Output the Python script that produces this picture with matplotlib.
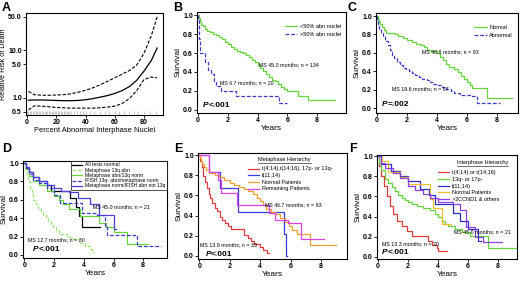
import matplotlib.pyplot as plt
import numpy as np

plt.rcParams['font.family'] = ['Liberation Sans', 'DejaVu Sans']

# ---- A: relative risk vs percent abnormal nuclei
a_x = [1, 5, 10, 15, 20, 25, 30, 35, 40, 45, 50, 55, 60, 65, 70, 75, 80, 85, 89]
a_rr = [0.88, 0.89, 0.89, 0.88, 0.87, 0.86, 0.86, 0.87, 0.9, 0.95, 1.02, 1.1, 1.22, 1.4, 1.7, 2.3, 3.6, 6.0, 11.0]
a_hi = [1.35, 1.15, 1.12, 1.12, 1.13, 1.15, 1.2, 1.3, 1.42, 1.6, 1.85, 2.2, 2.6, 3.1, 3.7, 4.8, 8.5, 20.0, 50.0]
a_lo = [0.55, 0.67, 0.66, 0.64, 0.62, 0.61, 0.6, 0.6, 0.6, 0.6, 0.61, 0.63, 0.66, 0.75, 0.95, 1.4, 2.4, 2.7, 2.6]
a_rug = [0, 1, 2, 3, 4, 5, 6, 7, 8, 9, 10, 11, 12, 13, 14, 15, 16, 17, 18, 19, 20, 21, 22, 23, 24,
         25, 26, 27, 28, 29, 30, 32, 34, 36, 38, 40, 43, 46, 50, 53, 56, 60, 63, 66, 70, 73, 76, 80, 84, 88]

# ---- B
b_lt50 = [(0, 1.0), (0.05, 0.97), (0.1, 0.94), (0.2, 0.9), (0.3, 0.88), (0.45, 0.85), (0.6, 0.83),
          (0.8, 0.82), (1.0, 0.8), (1.2, 0.79), (1.4, 0.77), (1.6, 0.75), (1.8, 0.72), (2.0, 0.69),
          (2.2, 0.66), (2.4, 0.64), (2.6, 0.62), (2.8, 0.61), (3.0, 0.6), (3.2, 0.58), (3.4, 0.56),
          (3.6, 0.53), (3.8, 0.5), (4.0, 0.47), (4.2, 0.44), (4.4, 0.41), (4.6, 0.38), (4.8, 0.35),
          (5.0, 0.32), (5.2, 0.3), (5.4, 0.27), (5.6, 0.24), (5.8, 0.22), (6.0, 0.2), (6.75, 0.15),
          (7.4, 0.1), (9.2, 0.1)]
b_gt50 = [(0, 1.0), (0.03, 0.95), (0.06, 0.85), (0.09, 0.75), (0.12, 0.6), (0.45, 0.5), (0.65, 0.42),
          (0.9, 0.38), (1.1, 0.3), (1.2, 0.25), (1.55, 0.2), (2.55, 0.15), (5.45, 0.075), (5.95, 0.075)]

# ---- C
c_normal = [(0, 1.0), (0.05, 0.97), (0.1, 0.94), (0.2, 0.91), (0.3, 0.88), (0.45, 0.85), (0.6, 0.82),
            (1.2, 0.8), (1.4, 0.78), (1.7, 0.76), (2.0, 0.74), (2.3, 0.72), (2.6, 0.7), (2.9, 0.68),
            (3.1, 0.66), (3.3, 0.63), (3.6, 0.62), (4.0, 0.6), (4.2, 0.56), (4.4, 0.52), (4.6, 0.48),
            (4.8, 0.45), (5.1, 0.42), (5.4, 0.39), (5.6, 0.35), (5.8, 0.32), (6.0, 0.28), (6.2, 0.25),
            (6.35, 0.22), (7.35, 0.11), (9.0, 0.11)]
c_abnormal = [(0, 1.0), (0.03, 0.95), (0.08, 0.9), (0.15, 0.86), (0.25, 0.82), (0.4, 0.78), (0.55, 0.73),
              (0.7, 0.68), (0.85, 0.63), (1.0, 0.58), (1.15, 0.54), (1.3, 0.5), (1.5, 0.47), (1.7, 0.44),
              (1.9, 0.42), (2.1, 0.4), (2.3, 0.38), (2.5, 0.36), (2.8, 0.34), (3.0, 0.32), (3.3, 0.3),
              (3.5, 0.28), (3.7, 0.26), (4.0, 0.25), (4.3, 0.23), (4.6, 0.21), (4.9, 0.18), (5.1, 0.16),
              (5.5, 0.14), (6.2, 0.13), (6.65, 0.06), (8.2, 0.06)]

# ---- D
d_all_normal = [(0, 1.0), (0.1, 0.95), (0.3, 0.9), (0.6, 0.85), (1.0, 0.8), (1.5, 0.76), (1.8, 0.7),
                (3.05, 0.62), (3.45, 0.52), (3.65, 0.42), (3.85, 0.3), (5.1, 0.3)]
d_meta13q = [(0, 1.0), (0.05, 0.93), (0.15, 0.87), (0.25, 0.8), (0.38, 0.73), (0.5, 0.67), (0.6, 0.6),
             (0.8, 0.55), (0.95, 0.5), (1.1, 0.47), (1.28, 0.43), (1.45, 0.4), (1.6, 0.37), (1.8, 0.33),
             (1.96, 0.3), (2.15, 0.27), (2.3, 0.23), (2.85, 0.2), (3.3, 0.17), (3.65, 0.13), (4.1, 0.1),
             (4.4, 0.07), (4.55, 0.03), (4.66, 0.03)]
d_meta_abn = [(0, 1.0), (0.1, 0.93), (0.3, 0.86), (0.6, 0.8), (1.0, 0.76), (1.5, 0.7), (2.0, 0.64),
              (2.3, 0.6), (2.6, 0.55), (3.0, 0.5), (3.6, 0.5), (3.75, 0.42), (4.8, 0.42), (5.0, 0.35),
              (5.5, 0.3), (6.0, 0.25), (6.9, 0.12), (8.3, 0.12)]
d_ifish13q = [(0, 1.0), (0.1, 0.95), (0.3, 0.88), (0.6, 0.82), (1.0, 0.78), (1.5, 0.73), (2.0, 0.65),
              (2.4, 0.57), (3.7, 0.57), (3.9, 0.46), (4.9, 0.44), (5.4, 0.3), (5.55, 0.22), (7.6, 0.1),
              (9.2, 0.1)]
d_ifish_other = [(0, 1.0), (0.1, 0.96), (0.3, 0.9), (0.6, 0.85), (1.0, 0.8), (1.5, 0.76), (2.0, 0.73),
                 (2.5, 0.7), (3.0, 0.68), (3.6, 0.62), (4.4, 0.55), (5.0, 0.44), (5.8, 0.44),
                 (6.0, 0.28), (6.2, 0.28)]

# ---- E
e_high = [(0, 1.0), (0.05, 0.94), (0.15, 0.88), (0.25, 0.79), (0.35, 0.73), (0.48, 0.67), (0.6, 0.61),
          (0.72, 0.57), (0.85, 0.52), (1.0, 0.48), (1.15, 0.45), (1.35, 0.39), (1.5, 0.36), (1.7, 0.33),
          (1.9, 0.3), (2.05, 0.27), (2.9, 0.21), (3.2, 0.18), (3.4, 0.15), (3.6, 0.12), (4.0, 0.09),
          (4.2, 0.06), (4.45, 0.03), (4.6, 0.03)]
e_t1114 = [(0, 1.0), (0.62, 0.83), (1.38, 0.67), (2.52, 0.44), (5.55, 0.22), (5.72, 0.0), (5.75, 0.0)]
e_normal = [(0, 1.0), (0.05, 0.97), (0.1, 0.94), (0.2, 0.91), (0.3, 0.88), (0.45, 0.85), (0.6, 0.82),
            (1.0, 0.8), (1.3, 0.78), (1.6, 0.75), (2.0, 0.72), (2.3, 0.7), (2.6, 0.68), (2.9, 0.66),
            (3.2, 0.64), (3.5, 0.61), (3.8, 0.57), (4.0, 0.54), (4.2, 0.5), (4.4, 0.47), (4.7, 0.44),
            (5.0, 0.42), (5.3, 0.38), (5.6, 0.34), (5.9, 0.3), (6.1, 0.26), (6.4, 0.22), (7.3, 0.11),
            (9.0, 0.11)]
e_remaining = [(0, 1.0), (0.65, 0.83), (1.2, 0.75), (1.4, 0.62), (2.5, 0.5), (4.4, 0.5), (4.6, 0.43),
               (5.0, 0.36), (5.8, 0.33), (6.7, 0.17), (8.2, 0.17)]

# ---- F
f_t414 = [(0, 1.0), (0.1, 0.9), (0.22, 0.8), (0.44, 0.7), (0.6, 0.6), (0.82, 0.5), (1.04, 0.43),
          (1.27, 0.36), (1.6, 0.31), (1.93, 0.26), (2.27, 0.21), (3.38, 0.16), (3.6, 0.12),
          (3.93, 0.09), (4.04, 0.06), (4.6, 0.06)]
f_13q17p = [(0, 1.0), (0.1, 0.93), (0.25, 0.86), (0.49, 0.77), (0.7, 0.73), (0.93, 0.69), (1.15, 0.65),
            (1.38, 0.61), (1.6, 0.58), (1.82, 0.56), (2.05, 0.54), (2.27, 0.52), (2.6, 0.5), (3.0, 0.49),
            (3.5, 0.47), (3.82, 0.43), (4.05, 0.4), (4.27, 0.36), (4.5, 0.33), (4.7, 0.31), (5.16, 0.28),
            (5.6, 0.25), (6.16, 0.21), (7.38, 0.09), (9.27, 0.09)]
f_t1114 = [(0, 1.0), (0.25, 0.92), (0.9, 0.85), (1.5, 0.8), (2.0, 0.75), (2.8, 0.67), (3.4, 0.61),
           (3.8, 0.52), (5.0, 0.44), (5.5, 0.36), (6.0, 0.28), (6.7, 0.16), (6.9, 0.16)]
f_normal = [(0, 1.0), (0.3, 0.95), (0.7, 0.84), (1.5, 0.79), (2.0, 0.72), (3.5, 0.57), (3.7, 0.49),
            (4.3, 0.33), (4.9, 0.33)]
f_ccnd1 = [(0, 1.0), (0.2, 0.93), (0.5, 0.88), (1.0, 0.83), (1.5, 0.78), (2.0, 0.7), (2.5, 0.66),
           (3.0, 0.62), (3.5, 0.58), (4.0, 0.54), (5.0, 0.52), (5.5, 0.47), (5.9, 0.3), (6.5, 0.2),
           (7.0, 0.15), (8.3, 0.15)]

GREEN = '#66d43c'
BLUE = '#3c3cc8'

W, H = 520, 281
fig = plt.figure(figsize=(W / 100, H / 100), dpi=100)


def box(l, t, r, b):
    return [l / W, 1 - b / H, (r - l) / W, (b - t) / H]


def km(ax, pts, color, ls='-', label=None, lw=0.9):
    t, s = zip(*pts)
    line, = ax.plot(t, s, drawstyle='steps-post', color=color, ls=ls, lw=lw, label=label)
    if ls == '--':
        line.set_dashes((3, 1.5))
    return line


def bold_ticks(ax):
    ax.tick_params(labelsize=5, length=2, width=0.6, pad=1)
    for lab in ax.get_xticklabels() + ax.get_yticklabels():
        lab.set_fontweight('bold')
    for sp in ax.spines.values():
        sp.set_linewidth(0.8)


def surv_axes(rect, xlim, ylim):
    ax = fig.add_axes(box(*rect))
    ax.set_xlim(*xlim)
    ax.set_ylim(*ylim)
    ax.set_xticks([0, 2, 4, 6, 8])
    yt = np.arange(0, 1.01, 0.2)
    ax.set_yticks(yt)
    ax.set_yticklabels([f"{v:.1f}" for v in yt])
    bold_ticks(ax)
    ax.set_xlabel('Years', fontsize=6, labelpad=0.5)
    ax.set_ylabel('Survival', fontsize=6, labelpad=1)
    return ax


def pval(ax, x, y, rest):
    t = ax.text(x, y, 'P', fontsize=6, fontweight='bold', fontstyle='italic')
    ax.annotate(rest, xy=(1, 0), xycoords=t, fontsize=6, fontweight='bold', va='bottom')


def ms(ax, x, y, s):
    ax.text(x, y, s, fontsize=3.8)


# ---- panel A
axA = fig.add_axes(box(26, 13, 163, 115))
axA.set_yscale('log')
axA.plot(a_x, a_rr, color='black', lw=0.9)
axA.plot(a_x, a_hi, color='black', lw=0.8, dashes=(3, 1.5))
axA.plot(a_x, a_lo, color='black', lw=0.8, dashes=(3, 1.5))
axA.vlines(a_rug, 0.45, 0.52, color='#999999', lw=0.4)
axA.set_xlim(-0.7, 93)
axA.set_ylim(0.43, 60)
axA.set_xticks([0, 20, 40, 60, 80])
axA.set_yticks([0.5, 1.0, 5.0, 10.0, 50.0])
axA.set_yticklabels(['0.5', '1.0', '5.0', '10.0', '50.0'])
axA.minorticks_off()
bold_ticks(axA)
axA.set_xlabel('Percent Abnormal Interphase Nuclei', fontsize=5.4, labelpad=0.5)
axA.set_ylabel('Relative Risk of Death', fontsize=5.2, labelpad=1)

# ---- panel B
axB = surv_axes((197, 12, 346, 113), (-0.07, 9.95), (-0.032, 1.032))
km(axB, b_lt50, GREEN, label='<50% abn nuclei')
km(axB, b_gt50, BLUE, ls='--', label='>50% abn nuclei')
axB.legend(loc='upper right', bbox_to_anchor=(1.0, 0.93), frameon=False, fontsize=4,
           handlelength=2.2, labelspacing=0.5, handletextpad=0.5)
ms(axB, 4.1, 0.46, 'MS 45.0 months; n = 134')
ms(axB, 1.45, 0.27, 'MS 6.7 months; n = 20')
pval(axB, 0.35, 0.03, '<.001')

# ---- panel C
axC = surv_axes((376, 13, 518, 113), (-0.07, 9.4), (-0.054, 1.033))
km(axC, c_normal, GREEN, label='Normal')
km(axC, c_abnormal, BLUE, ls='--', label='Abnormal')
axC.legend(loc='upper right', bbox_to_anchor=(1.0, 0.93), frameon=False, fontsize=4,
           handlelength=2.2, labelspacing=0.5, handletextpad=0.5)
ms(axC, 3.0, 0.6, 'MS 46.8 months; n = 93')
ms(axC, 1.0, 0.19, 'MS 19.6 months; n = 67')
pval(axC, 0.33, 0.02, '=.002')

# ---- panel D
axD = surv_axes((23, 161, 167, 258), (-0.09, 9.6), (-0.033, 1.022))
km(axD, d_all_normal, 'black', label='All tests normal')
km(axD, d_meta13q, '#9be37a', ls='--', label='Metaphase 13q abn')
km(axD, d_meta_abn, GREEN, label='Metaphase abn/13q norm')
km(axD, d_ifish13q, BLUE, ls='--', label='IFISH 13q- abn/metaphase norm')
km(axD, d_ifish_other, '#4a3ee0', label='Metaphase norm/IFISH abn not 13q')
legD = axD.legend(loc='upper right', bbox_to_anchor=(1.0, 1.0), frameon=True, fontsize=3.6,
                  handlelength=2.0, labelspacing=0.05, handletextpad=0.6, borderpad=0.3,
                  fancybox=False, borderaxespad=0)
legD.get_frame().set_edgecolor('black')
legD.get_frame().set_linewidth(0.6)
ms(axD, 4.6, 0.51, 'MS 45.0 months; n = 21')
ms(axD, 0.25, 0.15, 'MS 12.7 months; n = 30')
pval(axD, 0.55, 0.04, '<.001')

# ---- panel E
axE = surv_axes((198, 153, 347, 259), (-0.09, 9.7), (-0.03, 1.02))
km(axE, e_high, '#e03c3c', label='t(4;14),t(14;16), 17p- or 13q-')
km(axE, e_t1114, '#3c3cdc', label='t(11;14)')
km(axE, e_normal, '#f0a030', label='Normal Patients')
km(axE, e_remaining, '#e040e8', label='Remaining Patients')
axE.legend(loc='upper left', bbox_to_anchor=(0.30, 0.92), frameon=False, fontsize=4,
           handlelength=2.0, labelspacing=0.3, handletextpad=0.5)
ms(axE, 4.3, 0.49, 'MS 46.7 months; n = 93')
ms(axE, 0.05, 0.1, 'MS 13.9 months; n = 33')
pval(axE, 0.4, 0.0, '<.001')

# ---- panel F
axF = surv_axes((377, 155, 517, 259), (-0.05, 9.3), (-0.02, 1.01))
km(axF, f_t414, '#e03c3c', label='t(4;14) or t(14;16)')
km(axF, f_13q17p, GREEN, label='13q- or 17p-')
km(axF, f_t1114, '#2c2cc8', label='t(11;14)')
km(axF, f_normal, '#f0c030', label='Normal Patients')
km(axF, f_ccnd1, '#8c40e8', label='>2CCND1 & others')
axF.legend(loc='upper left', bbox_to_anchor=(0.40, 0.9), frameon=False, fontsize=4,
           handlelength=2.0, labelspacing=0.3, handletextpad=0.5)
ms(axF, 5.1, 0.23, 'MS 45.0 months; n = 21')
ms(axF, 0.27, 0.12, 'MS 13.3 months; n = 20')
pval(axF, 0.27, 0.03, '<.001')

# underlined legend titles for E and F
titles = [(axE, 'Metaphase Hierarchy', 258, 161), (axF, 'Interphase Hierarchy', 457, 164)]
fig.canvas.draw()
for ax, s, px, py in titles:
    t = fig.text(px / W, 1 - py / H, s, fontsize=4)
    fig.canvas.draw()
    bb = t.get_window_extent()
    fig.add_artist(plt.Line2D([bb.x0 / W, bb.x1 / W], [(bb.y0 - 0.5) / H] * 2,
                              color='black', lw=0.4))

# panel letters
for s, px, py in [('A', 2, 11), ('B', 173, 11), ('C', 347, 11),
                  ('D', 2, 152), ('E', 174, 152), ('F', 349, 152)]:
    fig.text(px / W, 1 - py / H, s, fontsize=9, fontweight='bold')

fig.savefig('out.png', dpi=100)
